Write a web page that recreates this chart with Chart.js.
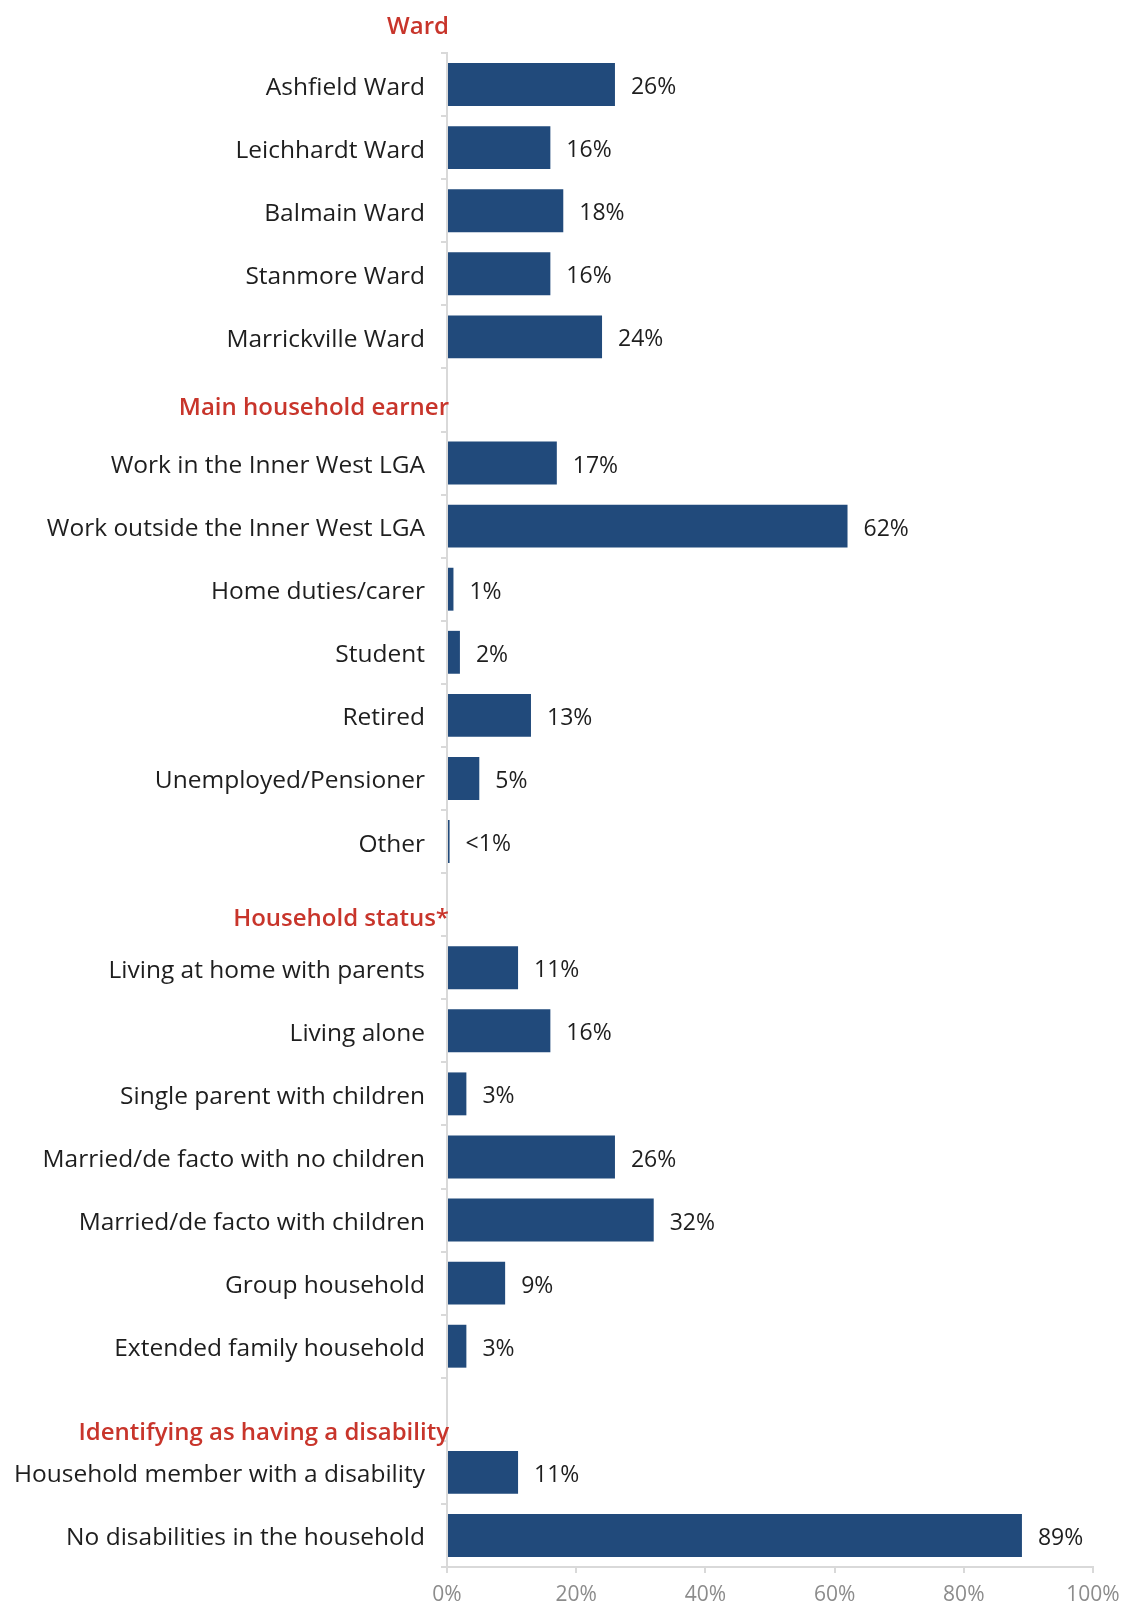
<!DOCTYPE html>
<html lang="en">
<head>
    <meta charset="UTF-8">
    <title>Respondent profile</title>
    <script src="https://cdn.jsdelivr.net/npm/chart.js"></script>
    <style>
        html, body { margin: 0; padding: 0; background: #ffffff; }
        #wrap { position: relative; width: 1131px; height: 1607px; }
    </style>
</head>
<body>
    <div id="wrap">
        <canvas id="profileChart" width="1131" height="1607"></canvas>
    </div>

    <script>
        // Rows of the chart, top to bottom. Section headings sit in their own empty rows.
        const categories = [
            'Ashfield Ward', 'Leichhardt Ward', 'Balmain Ward', 'Stanmore Ward', 'Marrickville Ward',
            'Main household earner',
            'Work in the Inner West LGA', 'Work outside the Inner West LGA', 'Home duties/carer',
            'Student', 'Retired', 'Unemployed/Pensioner', 'Other',
            'Household status*',
            'Living at home with parents', 'Living alone', 'Single parent with children',
            'Married/de facto with no children', 'Married/de facto with children',
            'Group household', 'Extended family household',
            'Identifying as having a disability',
            'Household member with a disability', 'No disabilities in the household'
        ];

        const values = [
            26, 16, 18, 16, 24,
            null,
            17, 62, 1, 2, 13, 5, 0.4,
            null,
            11, 16, 3, 26, 32, 9, 3,
            null,
            11, 89
        ];

        const topHeading = 'Ward';
        const sectionHeadings = ['Main household earner', 'Household status*', 'Identifying as having a disability'];

        const xTicks = [0, 20, 40, 60, 80, 100];

        const barColour = '#214A7B';
        const headColour = '#C8352B';
        const textColour = '#1E1E1E';
        const axisColour = '#D9D9D9';

        function pctText(v) {
            return v < 1 ? '<1%' : v + '%';
        }

        // red section headings, right-aligned against the axis line
        const headingPlugin = {
            id: 'headings',
            afterDraw(chart) {
                const ctx = chart.ctx;
                const y = chart.scales.y;
                const x = chart.chartArea.left + 2;
                const heads = [{ text: topHeading, row: -1, nudge: 6 }].concat(
                    sectionHeadings.map((h, i) => ({ text: h, row: categories.indexOf(h), nudge: [8, 15, 24][i] }))
                );
                ctx.save();
                ctx.fillStyle = headColour;
                ctx.font = '600 24px "Open Sans"';
                ctx.textAlign = 'right';
                ctx.textBaseline = 'middle';
                heads.forEach(h => {
                    ctx.fillText(h.text, x, y.getPixelForValue(h.row) + h.nudge);
                });
                ctx.restore();
            }
        };

        // percentage labels at the end of each bar
        const valueLabelPlugin = {
            id: 'valueLabels',
            afterDatasetsDraw(chart) {
                const ctx = chart.ctx;
                const meta = chart.getDatasetMeta(0);
                ctx.save();
                ctx.fillStyle = textColour;
                ctx.font = '23px "Open Sans"';
                ctx.textAlign = 'left';
                ctx.textBaseline = 'middle';
                meta.data.forEach((bar, i) => {
                    const v = values[i];
                    if (v === null) return;
                    ctx.fillText(pctText(v), bar.x + 16, bar.y + 3);
                });
                ctx.restore();
            }
        };

        const ctx = document.getElementById('profileChart').getContext('2d');

        new Chart(ctx, {
            type: 'bar',
            data: {
                labels: categories,
                datasets: [{
                    data: values,
                    backgroundColor: barColour,
                    borderWidth: 0,
                    barPercentage: 0.68,
                    categoryPercentage: 1
                }]
            },
            options: {
                indexAxis: 'y',
                responsive: false,
                animation: false,
                layout: {
                    padding: { top: 53, right: 38, left: 0, bottom: 0 }
                },
                plugins: {
                    legend: { display: false },
                    tooltip: { enabled: false }
                },
                scales: {
                    x: {
                        min: 0,
                        max: 100,
                        afterBuildTicks: scale => {
                            scale.ticks = xTicks.map(v => ({ value: v }));
                        },
                        afterFit: scale => { scale.height = 40; },
                        border: { color: axisColour, width: 2 },
                        grid: {
                            drawOnChartArea: false,
                            drawTicks: true,
                            tickLength: 6,
                            color: axisColour,
                            lineWidth: 2
                        },
                        ticks: {
                            color: '#8C8C8C',
                            font: { family: 'Open Sans', size: 21 },
                            padding: 9,
                            callback: v => v + '%'
                        }
                    },
                    y: {
                        afterFit: scale => { scale.width = 447; },
                        border: { color: axisColour, width: 2 },
                        grid: {
                            offset: true,
                            drawOnChartArea: false,
                            drawTicks: true,
                            tickLength: 6,
                            color: axisColour,
                            lineWidth: 2
                        },
                        ticks: {
                            color: textColour,
                            font: { family: 'Open Sans', size: 24.5 },
                            padding: 16,
                            labelOffset: 3,
                            autoSkip: false,
                            callback: function (value) {
                                const label = this.getLabelForValue(value);
                                return sectionHeadings.includes(label) ? '' : label;
                            }
                        }
                    }
                }
            },
            plugins: [headingPlugin, valueLabelPlugin]
        });
    </script>
</body>
</html>
